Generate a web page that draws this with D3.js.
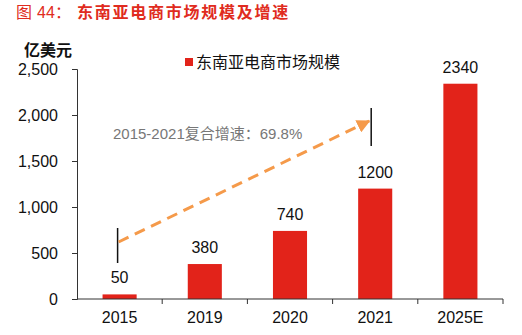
<!DOCTYPE html>
<html><head><meta charset="utf-8">
<script src="https://cdn.jsdelivr.net/npm/d3@7"></script>
<style>body{margin:0;background:#fff;}svg{display:block;font-family:"Liberation Sans",Arial,"Noto Sans CJK SC",sans-serif;}</style>
</head><body>
<script>
const categories = ["2015","2019","2020","2021","2025E"];
const values = [50,380,740,1200,2340];
const yTicks = [0,500,1000,1500,2000,2500];
const titleParts = ["图", "44", "：", "东南亚电商市场规模及增速"];
const unit = "亿美元";
const seriesName = "东南亚电商市场规模";
const cagrText = "2015-2021复合增速：69.8%";

const W=522,H=335;
const FF="'Liberation Sans',Arial,'Noto Sans CJK SC',sans-serif";
const CJK="'Noto Sans CJK SC',sans-serif";
const svg=d3.select("body").append("svg").attr("width",W).attr("height",H);
const x=d3.scaleBand().domain(categories).range([77,503]).paddingInner(0.6).paddingOuter(0.3);
const y=d3.scaleLinear().domain([0,2500]).range([299,69]);

const t=svg.append("text").attr("y",18).attr("fill","#e02b20");
t.append("tspan").attr("x",16).attr("font-size",16).attr("font-family",CJK).text(titleParts[0]);
t.append("tspan").attr("x",37).attr("font-size",16).attr("font-family",FF).text(titleParts[1]);
t.append("tspan").attr("x",55).attr("font-size",16).attr("font-family",CJK).text(titleParts[2]);
t.append("tspan").attr("x",77).attr("font-size",16).attr("letter-spacing",1.75).attr("font-weight","bold").attr("font-family",CJK).text(titleParts[3]);

svg.append("text").attr("x",24).attr("y",56).attr("font-size",16).attr("font-weight","bold")
  .attr("font-family",CJK).attr("fill","#111").text(unit);

// legend
svg.append("rect").attr("x",185).attr("y",58).attr("width",8).attr("height",8).attr("fill","#e2231a");
svg.append("text").attr("x",196).attr("y",68).attr("font-size",16).attr("fill","#111")
  .attr("font-family",CJK).text(seriesName);

// y axis
const ya=svg.append("g").attr("transform","translate(77,0)").call(d3.axisLeft(y).tickValues(yTicks).tickSize(5).tickFormat(d3.format(",")));
ya.select(".domain").attr("stroke","#333");
ya.selectAll(".tick line").attr("stroke","#333");
ya.selectAll("text").attr("font-size",16).attr("fill","#111").attr("x",-19).attr("font-family",FF);

// bars
svg.selectAll(".bar").data(values).enter().append("rect")
  .attr("x",(d,i)=>x(categories[i])).attr("width",x.bandwidth())
  .attr("y",d=>y(d)).attr("height",d=>y(0)-y(d)).attr("fill","#e2231a");
svg.selectAll(".vl").data(values).enter().append("text")
  .attr("x",(d,i)=>x(categories[i])+x.bandwidth()/2).attr("y",d=>y(d)-11)
  .attr("text-anchor","middle").attr("font-size",16).attr("fill","#111").text(d=>d);

// x axis
const xa=svg.append("g").attr("transform","translate(0,299)");
xa.append("line").attr("x1",77).attr("x2",503).attr("stroke","#333");
const step=x.step();
const bounds=categories.map((c,i)=>77+step*(i+1));
xa.selectAll(".xt").data(bounds).enter().append("line").attr("x1",d=>d).attr("x2",d=>d).attr("y1",0).attr("y2",5).attr("stroke","#333");
xa.selectAll(".xl").data(categories).enter().append("text")
  .attr("x",d=>x(d)+x.bandwidth()/2).attr("y",24).attr("text-anchor","middle").attr("font-size",16).attr("fill","#111").text(d=>d);

// CAGR arrow
const cx0=x("2015")+x.bandwidth()/2-2, cx1=x("2021")+x.bandwidth()/2-4;
svg.append("line").attr("x1",cx0).attr("x2",cx0).attr("y1",228).attr("y2",263).attr("stroke","#111").attr("stroke-width",1.5);
svg.append("line").attr("x1",cx1).attr("x2",cx1).attr("y1",108).attr("y2",146).attr("stroke","#111").attr("stroke-width",1.5);
svg.append("defs").append("marker").attr("id","ah").attr("viewBox","0 0 10 10").attr("refX",9).attr("refY",5)
  .attr("markerWidth",4.5).attr("markerHeight",4.5).attr("orient","auto").attr("markerUnits","strokeWidth")
  .append("path").attr("d","M0,0L10,5L0,10Z").attr("fill","#f59a4a");
svg.append("line").attr("x1",cx0+1).attr("y1",242).attr("x2",cx1-2).attr("y2",121)
  .attr("stroke","#f59a4a").attr("stroke-width",3).attr("stroke-dasharray","11,7").attr("marker-end","url(#ah)");
svg.append("text").attr("x",113).attr("y",139).attr("font-size",15).attr("fill","#777")
  .attr("font-family",FF).text(cagrText);
</script>
</body></html>
